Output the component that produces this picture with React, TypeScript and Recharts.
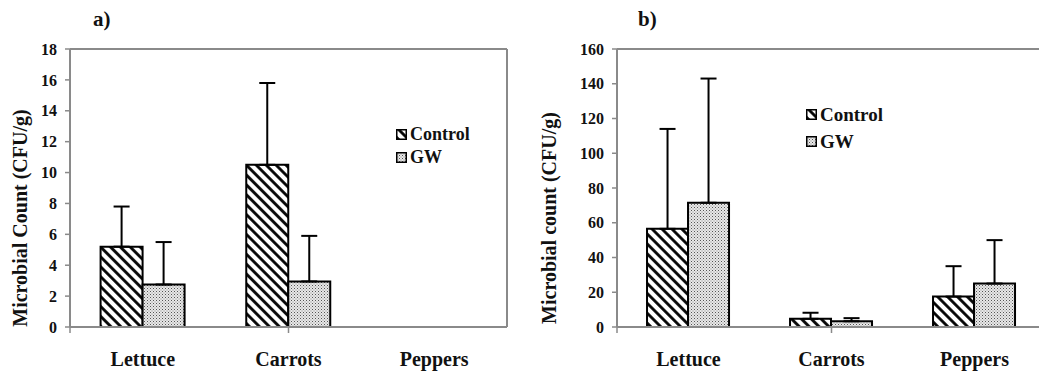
import React from 'react';
import { BarChart, Bar, XAxis, YAxis, ErrorBar, ReferenceLine } from 'recharts';

const categories = ['Lettuce', 'Carrots', 'Peppers'];

// panel a
const controlA = [5.2, 10.5, null];
const gwA = [2.75, 2.95, null];
const controlAErr = [2.6, 5.3, null];
const gwAErr = [2.75, 2.95, null];
const ticksA = [0, 2, 4, 6, 8, 10, 12, 14, 16, 18];

// panel b
const controlB = [56.5, 4.7, 17.5];
const gwB = [71.5, 3.3, 25];
const controlBErr = [57.5, 3.5, 17.5];
const gwBErr = [71.5, 1.8, 25];
const ticksB = [0, 20, 40, 60, 80, 100, 120, 140, 160];

const FONT = "'Liberation Serif', serif";
const AXIS = '#8a8a8a';

const build = (c: (number | null)[], g: (number | null)[], ce: (number | null)[], ge: (number | null)[]) =>
  categories.map((name, i) => ({
    name,
    control: c[i],
    gw: g[i],
    cErr: ce[i] == null ? null : [0, ce[i]],
    gErr: ge[i] == null ? null : [0, ge[i]],
  }));

const dataA = build(controlA, gwA, controlAErr, gwAErr);
const dataB = build(controlB, gwB, controlBErr, gwBErr);

function Patterns({ id }: { id: string }) {
  return (
    <defs>
      <pattern id={`stripe-${id}`} patternUnits="userSpaceOnUse" width="7" height="7" patternTransform="rotate(-45)">
        <rect width="7" height="7" fill="#fff" />
        <line x1="1.5" y1="0" x2="1.5" y2="7" stroke="#000" strokeWidth="2.8" />
      </pattern>
      <pattern id={`dots-${id}`} patternUnits="userSpaceOnUse" width="3" height="3">
        <rect width="3" height="3" fill="#e8e8e8" />
        <rect x="0" y="0" width="1" height="1" fill="#555" />
        <rect x="1.5" y="1.5" width="1" height="1" fill="#888" />
      </pattern>
    </defs>
  );
}

function LegendBox({ id, gap, size, left, top }: { id: string; gap: number; size: number; left: number; top: number }) {
  const row = (label: string, fill: string) => (
    <div style={{ display: 'flex', alignItems: 'center', height: gap }}>
      <svg width={11} height={11} style={{ marginRight: 3 }}>
        <rect x={0.75} y={0.75} width={9.5} height={9.5} fill={fill} stroke="#000" strokeWidth={1.5} />
      </svg>
      <span style={{ fontFamily: FONT, fontWeight: 'bold', fontSize: size, color: '#111' }}>{label}</span>
    </div>
  );
  return (
    <div style={{ position: 'absolute', left, top }}>
      {row('Control', `url(#stripe-${id})`)}
      {row('GW', `url(#dots-${id})`)}
    </div>
  );
}

function YLabel({ text, x, y }: { text: string; x: number; y: number }) {
  return (
    <text
      x={x}
      y={y}
      transform={`rotate(-90 ${x} ${y})`}
      textAnchor="middle"
      dominantBaseline="central"
      style={{ fontFamily: FONT, fontWeight: 'bold', fontSize: 20 }}
      fill="#111"
    >
      {text}
    </text>
  );
}

interface PanelProps {
  id: string;
  data: ReturnType<typeof build>;
  ticks: number[];
  width: number;
  yWidth: number;
  rightMargin: number;
  yLabel: string;
  yLabelX: number;
}

function Panel(p: PanelProps) {
  const max = p.ticks[p.ticks.length - 1];
  return (
    <BarChart
      width={p.width}
      height={376}
      data={p.data}
      margin={{ top: 49, right: p.rightMargin, left: 0, bottom: 0 }}
      barCategoryGap="21%"
      barGap={0}
      style={{ fontFamily: FONT }}
    >
      <Patterns id={p.id} />
      <XAxis
        xAxisId={0}
        type="number"
        domain={[0, 3]}
        ticks={[0, 1, 2, 3]}
        height={1}
        tick={() => <g />}
        tickSize={6}
        tickLine={{ stroke: AXIS, strokeWidth: 1.5 }}
        axisLine={{ stroke: AXIS, strokeWidth: 2 }}
      />
      <XAxis
        xAxisId={1}
        dataKey="name"
        height={48}
        axisLine={false}
        tickLine={false}
        tickSize={0}
        tickMargin={24}
        tick={{ fill: '#111', fontFamily: FONT, fontWeight: 'bold', fontSize: 20 }}
      />
      <YAxis
        width={p.yWidth}
        domain={[0, max]}
        ticks={p.ticks}
        interval={0}
        tickSize={5}
        tickMargin={8}
        tickLine={{ stroke: AXIS, strokeWidth: 1.5 }}
        axisLine={{ stroke: AXIS, strokeWidth: 2 }}
        tick={{ fill: '#111', fontFamily: FONT, fontWeight: 'bold', fontSize: 16 }}
        label={{ content: () => <YLabel text={p.yLabel} x={p.yLabelX} y={218} /> }}
      />
      <YAxis
        yAxisId="right"
        orientation="right"
        width={1}
        domain={[0, max]}
        ticks={p.ticks}
        tick={false}
        tickLine={false}
        axisLine={{ stroke: AXIS, strokeWidth: 2 }}
      />
      <ReferenceLine y={max} xAxisId={1} stroke={AXIS} strokeWidth={2} ifOverflow="visible" />
      <Bar xAxisId={1} dataKey="control" fill={`url(#stripe-${p.id})`} stroke="#000" strokeWidth={2} isAnimationActive={false}>
        <ErrorBar dataKey="cErr" direction="y" width={8} stroke="#000" strokeWidth={2} />
      </Bar>
      <Bar xAxisId={1} dataKey="gw" fill={`url(#dots-${p.id})`} stroke="#000" strokeWidth={2} isAnimationActive={false}>
        <ErrorBar dataKey="gErr" direction="y" width={8} stroke="#000" strokeWidth={2} />
      </Bar>
    </BarChart>
  );
}

const titleStyle: React.CSSProperties = {
  position: 'absolute',
  top: 7,
  fontWeight: 'bold',
  fontSize: 21,
  color: '#111',
  fontFamily: FONT,
};

export default function App() {
  return (
    <div style={{ position: 'absolute', left: 0, top: 0, width: 1039, height: 376, overflow: 'hidden', background: '#fff', fontFamily: FONT }}>
      <div style={{ position: 'absolute', left: 0, top: 0 }}>
        <Panel
          id="a"
          data={dataA}
          ticks={ticksA}
          width={520}
          yWidth={70}
          rightMargin={12}
          yLabel="Microbial Count (CFU/g)"
          yLabelX={20}
        />
      </div>
      <div style={{ position: 'absolute', left: 520, top: 0 }}>
        <Panel
          id="b"
          data={dataB}
          ticks={ticksB}
          width={527}
          yWidth={97}
          rightMargin={0}
          yLabel="Microbial count (CFU/g)"
          yLabelX={29}
        />
      </div>
      <LegendBox id="a" gap={23} size={18} left={396} top={123} />
      <LegendBox id="b" gap={27} size={19} left={806} top={101} />
      <div style={{ ...titleStyle, left: 93 }}>a)</div>
      <div style={{ ...titleStyle, left: 638 }}>b)</div>
    </div>
  );
}
